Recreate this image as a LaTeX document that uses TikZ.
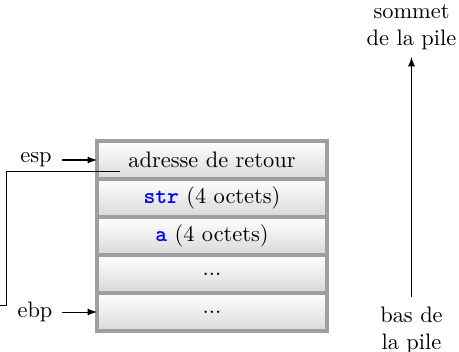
\documentclass[tikz,border=0pt]{standalone}
\usetikzlibrary{arrows}
\begin{document}
\begin{tikzpicture}[x=0.4464pt, y=-0.4464pt,
  cell/.style={draw=gray!75, line width=1.4pt, top color=white, bottom color=gray!30,
    minimum width=102.7pt, minimum height=16.96pt, inner sep=0pt, outer sep=0pt},
  ptr/.style={-latex, line width=0.45pt},
  lbl/.style={inner sep=0pt, align=center}]
\useasboundingbox (0,0) rectangle (459,351);
\clip (0,0) rectangle (459,351);

% stack cells
\node[cell] (c0) at (212,160) {adresse de retour};
\node[cell] (c1) at (212,198) {\textcolor{blue}{\texttt{\textbf{str}}} (4 octets)};
\node[cell] (c2) at (212,236) {\textcolor{blue}{\texttt{\textbf{a}}} (4 octets)};
\node[cell] (c3) at (212,274) {...};
\node[cell] (c4) at (212,312) {...};

% register pointers
\node[lbl] (esp) at (36,160) {esp};
\node[lbl] (ebp) at (35,312) {ebp};
\draw[ptr] (62,160) coordinate (espA) -- (c0.west);
\draw[ptr] (62,312) coordinate (ebpA) -- (c4.west);

% saved frame link
\coordinate (lnkA) at (120,171.7);
\coordinate (lnkB) at (6.5,171.7);
\coordinate (lnkC) at (6.5,305);
\coordinate (lnkD) at (-5,305);
\draw[line width=0.45pt] (lnkA) -- (lnkB) -- (lnkC) -- (lnkD);

% growth direction
\node[lbl] (top) at (411.5,27.5) {sommet\\de la pile};
\node[lbl] (bot) at (411.5,330.5) {bas de\\la pile};
\coordinate (arA) at (411.5,297);
\coordinate (arB) at (411.5,57);
\draw[ptr] (arA) -- (arB);
\end{tikzpicture}
\end{document}
